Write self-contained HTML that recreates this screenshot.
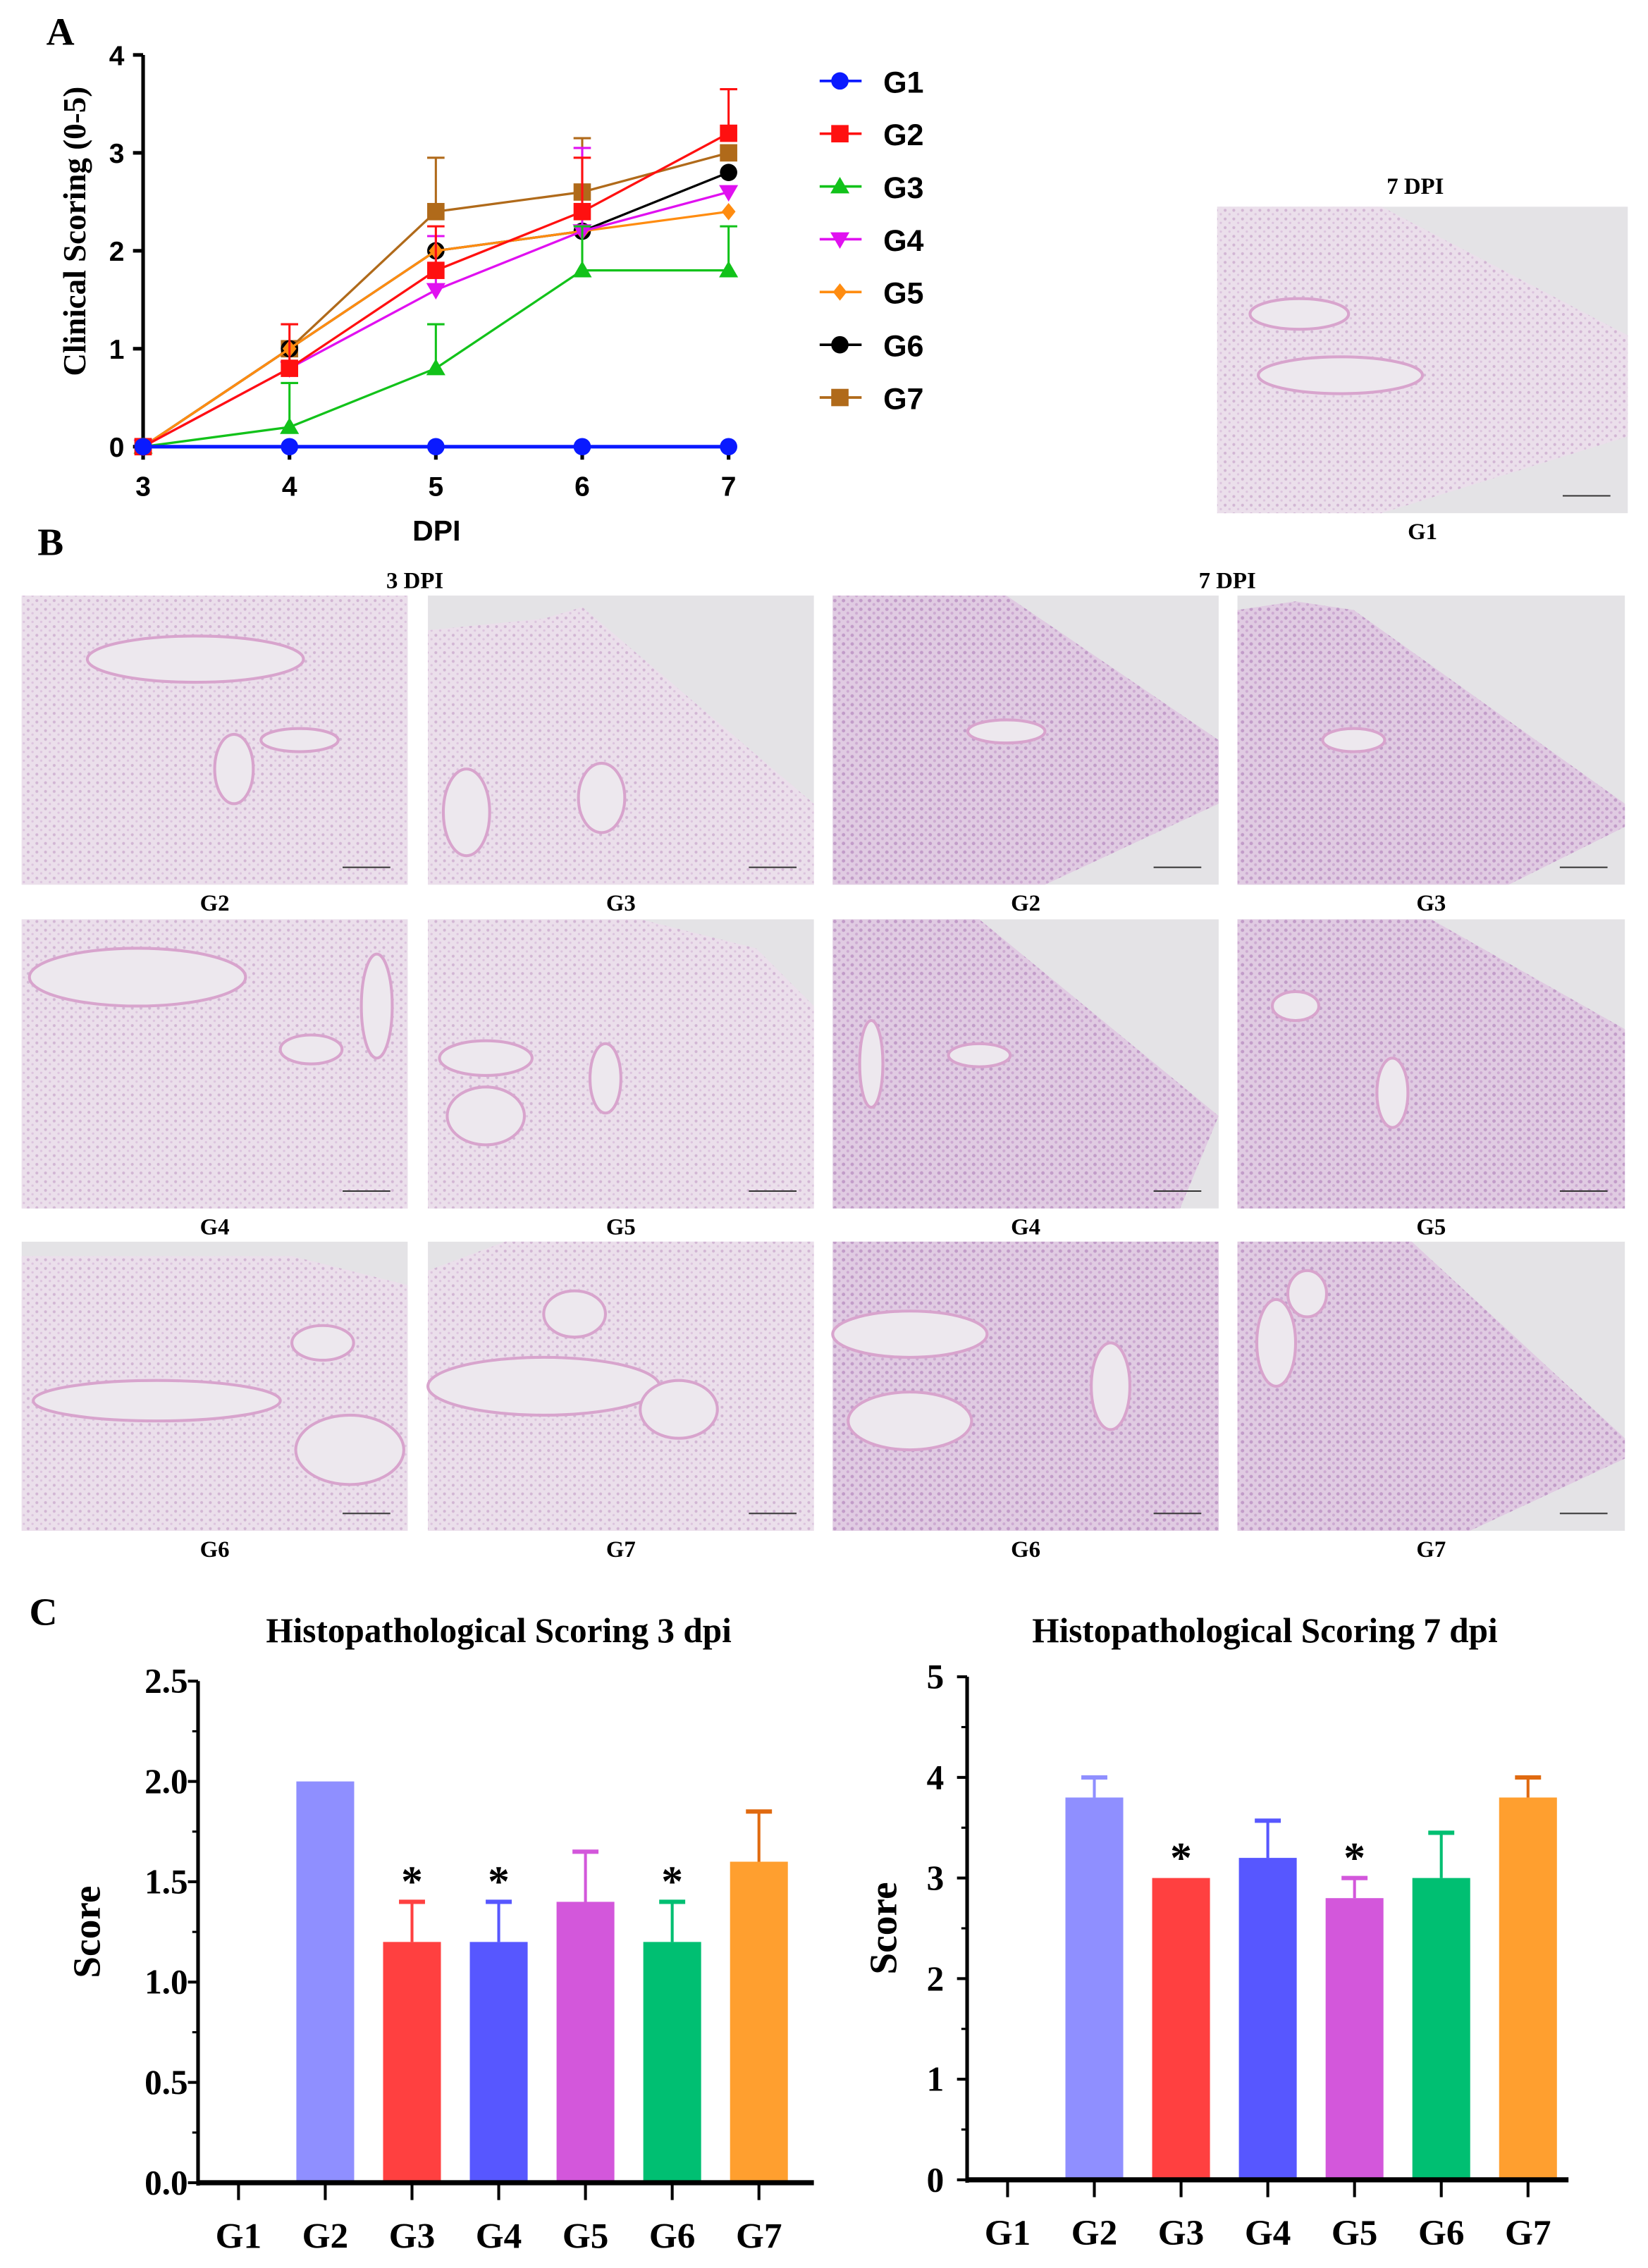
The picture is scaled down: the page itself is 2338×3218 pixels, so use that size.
<!DOCTYPE html>
<html><head><meta charset="utf-8">
<style>
html,body{margin:0;padding:0;background:#fff;}
svg{display:block;}
text{font-family:"Liberation Serif",serif;font-weight:bold;}
.sans{font-family:"Liberation Sans",sans-serif;font-weight:bold;}
</style></head>
<body>
<svg id="fig" xmlns="http://www.w3.org/2000/svg" width="2338" height="3218" viewBox="0 0 1140 1569" preserveAspectRatio="none">
<defs>
<pattern id="tex3" width="6" height="6" patternUnits="userSpaceOnUse">
<rect width="6" height="6" fill="#ebdfeb"/>
<circle cx="1.5" cy="1.5" r="1.0" fill="#d2b6d4"/>
<circle cx="4.5" cy="4.2" r="0.8" fill="#dcc4de"/>
</pattern>
<pattern id="tex7" width="6" height="6" patternUnits="userSpaceOnUse">
<rect width="6" height="6" fill="#e0cbe2"/>
<circle cx="1.5" cy="1.5" r="1.2" fill="#c29cc9"/>
<circle cx="4.5" cy="4.2" r="1.0" fill="#cdaad2"/>
</pattern>
</defs>
<g id="panelA"></g>
<g id="panelB"></g>
<g id="panelC"></g>
</svg>
<script>
const NS="http://www.w3.org/2000/svg";
function el(parent,tag,attrs,txt){const e=document.createElementNS(NS,tag);for(const k in attrs)e.setAttribute(k,attrs[k]);if(txt!==undefined)e.textContent=txt;parent.appendChild(e);return e;}

/* ===== Panel A data ===== */
const daysA=[3,4,5,6,7];
const groupsA=["G1","G2","G3","G4","G5","G6","G7"];
const colorsA=["#0a1aff","#ff1010","#12c21a","#e010f0","#ff8c10","#000000","#b06a1a"];
const markersA=["circle","square","triangle","tridown","diamond","circle","square"];
const g1Vals=[0,0,0,0,0];
const g2Vals=[0,0.8,1.8,2.4,3.2];
const g3Vals=[0,0.2,0.8,1.8,1.8];
const g4Vals=[0,0.8,1.6,2.2,2.6];
const g5Vals=[0,1.0,2.0,2.2,2.4];
const g6Vals=[0,1.0,2.0,2.2,2.8];
const g7Vals=[0,1.0,2.4,2.6,3.0];
const g1Err=[0,0,0,0,0];
const g2Err=[0,0.45,0.45,0.55,0.45];
const g3Err=[0,0.45,0.45,0.45,0.45];
const g4Err=[0,0,0.55,0.85,0];
const g5Err=[0,0,0,0,0];
const g6Err=[0,0,0,0,0];
const g7Err=[0,0,0.55,0.55,0];
const yTicksA=[0,1,2,3,4];
const seriesA=[g1Vals,g2Vals,g3Vals,g4Vals,g5Vals,g6Vals,g7Vals];
const errA=[g1Err,g2Err,g3Err,g4Err,g5Err,g6Err,g7Err];

const A=document.getElementById('panelA');
const xA=d=>99+(d-3)*101.25;
const yA=v=>309-v*67.75;
function marker(p,type,x,y,c,s){
  if(type==="circle")return el(p,'circle',{cx:x,cy:y,r:s,fill:c});
  if(type==="square")return el(p,'rect',{x:x-s,y:y-s,width:2*s,height:2*s,fill:c});
  if(type==="triangle")return el(p,'polygon',{points:`${x},${y-s*1.1} ${x-s*1.1},${y+s*0.8} ${x+s*1.1},${y+s*0.8}`,fill:c});
  if(type==="tridown")return el(p,'polygon',{points:`${x},${y+s*1.1} ${x-s*1.1},${y-s*0.8} ${x+s*1.1},${y-s*0.8}`,fill:c});
  if(type==="diamond")return el(p,'polygon',{points:`${x},${y-s} ${x+s*0.8},${y} ${x},${y+s} ${x-s*0.8},${y}`,fill:c});
}
let t=el(A,'text',{x:32,y:31,'font-size':27});t.textContent="A";

let ax=el(A,'line',{x1:99,y1:38,x2:99,y2:312,stroke:'#000','stroke-width':2.5});

yTicksA.forEach(v=>{
  el(A,'line',{x1:92,y1:yA(v),x2:99,y2:yA(v),stroke:'#000','stroke-width':2.5});
  const tt=el(A,'text',{x:86,y:yA(v)+7,'font-size':19,'text-anchor':'end',class:'sans'},String(v));
  
});
daysA.forEach(d=>{
  el(A,'line',{x1:xA(d),y1:309,x2:xA(d),y2:318,stroke:'#000','stroke-width':2.5});
  const tt=el(A,'text',{x:xA(d),y:343,'font-size':19,'text-anchor':'middle',class:'sans'},String(d));
  
});
t=el(A,'text',{x:302,y:374,'font-size':20,'text-anchor':'middle',class:'sans'},"DPI");

t=el(A,'text',{x:0,y:0,'font-size':22,'text-anchor':'middle',transform:'translate(59,160) rotate(-90)'},"Clinical Scoring (0-5)");

for(let i=seriesA.length-1;i>=0;i--){
  const g=el(A,'g',{});
  
  
  const c=colorsA[i];
  seriesA[i].forEach((v,j)=>{
    const e=errA[i][j];
    if(e>0){
      el(g,'line',{x1:xA(daysA[j]),y1:yA(v),x2:xA(daysA[j]),y2:yA(v+e),stroke:c,'stroke-width':1.5});
      el(g,'line',{x1:xA(daysA[j])-6,y1:yA(v+e),x2:xA(daysA[j])+6,y2:yA(v+e),stroke:c,'stroke-width':1.5});
    }
  });
  const pts=seriesA[i].map((v,j)=>xA(daysA[j])+','+yA(v)).join(' ');
  el(g,'polyline',{points:pts,fill:'none',stroke:c,'stroke-width':i===0?2.5:1.6});
  seriesA[i].forEach((v,j)=>{
    const m=marker(g,markersA[i],xA(daysA[j]),yA(v),c,6);
    
    
  });
}
groupsA.forEach((gname,i)=>{
  const y=56+i*36.5;
  const g=el(A,'g',{});
  
  
  el(g,'line',{x1:567,y1:y,x2:596,y2:y,stroke:colorsA[i],'stroke-width':1.8});
  marker(g,markersA[i],581,y,colorsA[i],6);
  el(g,'text',{x:611,y:y+8,'font-size':21,class:'sans'},gname);
});

/* ===== Panel B micrographs ===== */
const B=document.getElementById('panelB');
function label(p,x,y,txt,size,name){const e=el(p,'text',{x:x,y:y,'font-size':size,'text-anchor':'middle'},txt);return e;}
const panels=[
 {n:'g1-7dpi',x:842,y:143,w:284,h:212,tex:'tex3',poly:[[0,0],[0.4,0],[1,0.42],[1,0.75],[0.4,1],[0,1]],air:[[0.3,0.55,0.2,0.06],[0.2,0.35,0.12,0.05]],lab:'G1'},
 {n:'g2-3dpi',x:15,y:412,w:267,h:200,tex:'tex3',poly:[[0,0],[1,0],[1,1],[0,1]],air:[[0.45,0.22,0.28,0.08],[0.72,0.5,0.1,0.04],[0.55,0.6,0.05,0.12]],lab:'G2'},
 {n:'g3-3dpi',x:296,y:412,w:267,h:200,tex:'tex3',poly:[[0,0.12],[0.3,0.08],[0.4,0.04],[1,0.72],[1,1],[0,1]],air:[[0.45,0.7,0.06,0.12],[0.1,0.75,0.06,0.15]],lab:'G3'},
 {n:'g2-7dpi',x:576,y:412,w:267,h:200,tex:'tex7',poly:[[0,0],[0.45,0],[1,0.5],[1,0.72],[0.55,1],[0,1]],air:[[0.45,0.47,0.1,0.04]],lab:'G2'},
 {n:'g3-7dpi',x:856,y:412,w:268,h:200,tex:'tex7',poly:[[0,0.05],[0.15,0.02],[0.3,0.05],[1,0.72],[1,0.8],[0.7,1],[0,1]],air:[[0.3,0.5,0.08,0.04]],lab:'G3'},
 {n:'g4-3dpi',x:15,y:636,w:267,h:200,tex:'tex3',poly:[[0,0],[1,0],[1,1],[0,1]],air:[[0.3,0.2,0.28,0.1],[0.75,0.45,0.08,0.05],[0.92,0.3,0.04,0.18]],lab:'G4'},
 {n:'g5-3dpi',x:296,y:636,w:267,h:200,tex:'tex3',poly:[[0,0],[0.55,0],[0.85,0.1],[1,0.3],[1,1],[0,1]],air:[[0.15,0.48,0.12,0.06],[0.15,0.68,0.1,0.1],[0.46,0.55,0.04,0.12]],lab:'G5'},
 {n:'g4-7dpi',x:576,y:636,w:267,h:200,tex:'tex7',poly:[[0,0],[0.38,0],[1,0.68],[0.9,1],[0,1]],air:[[0.38,0.47,0.08,0.04],[0.1,0.5,0.03,0.15]],lab:'G4'},
 {n:'g5-7dpi',x:856,y:636,w:268,h:200,tex:'tex7',poly:[[0,0],[0.5,0],[1,0.38],[1,1],[0,1]],air:[[0.4,0.6,0.04,0.12],[0.15,0.3,0.06,0.05]],lab:'G5'},
 {n:'g6-3dpi',x:15,y:859,w:267,h:200,tex:'tex3',poly:[[0,0.05],[0.7,0.05],[1,0.15],[1,1],[0,1]],air:[[0.35,0.55,0.32,0.07],[0.85,0.72,0.14,0.12],[0.78,0.35,0.08,0.06]],lab:'G6'},
 {n:'g7-3dpi',x:296,y:859,w:267,h:200,tex:'tex3',poly:[[0,0.1],[0.2,0],[1,0],[1,1],[0,1]],air:[[0.3,0.5,0.3,0.1],[0.65,0.58,0.1,0.1],[0.38,0.25,0.08,0.08]],lab:'G7'},
 {n:'g6-7dpi',x:576,y:859,w:267,h:200,tex:'tex7',poly:[[0,0],[1,0],[1,1],[0,1]],air:[[0.2,0.32,0.2,0.08],[0.2,0.62,0.16,0.1],[0.72,0.5,0.05,0.15]],lab:'G6'},
 {n:'g7-7dpi',x:856,y:859,w:268,h:200,tex:'tex7',poly:[[0,0],[0.45,0],[1,0.68],[1,0.75],[0.6,1],[0,1]],air:[[0.1,0.35,0.05,0.15],[0.18,0.18,0.05,0.08]],lab:'G7'}
];
label(B,35,384,'B',27,'panel-b-label');
label(B,287,407,'3 DPI',16,'header-3dpi');
label(B,849,407,'7 DPI',16,'header-7dpi');
label(B,979,134,'7 DPI',16,'header-7dpi-g1');
panels.forEach(p=>{
  const g=el(B,'g',{});
  
  
  el(g,'rect',{x:p.x,y:p.y,width:p.w,height:p.h,fill:'#e4e3e6'});
  el(g,'polygon',{points:p.poly.map(q=>(p.x+q[0]*p.w)+','+(p.y+q[1]*p.h)).join(' '),fill:'url(#'+p.tex+')'});
  p.air.forEach(a=>{
    el(g,'ellipse',{cx:p.x+a[0]*p.w,cy:p.y+a[1]*p.h,rx:a[2]*p.w,ry:a[3]*p.h,fill:'#ede8ee',stroke:'#d8a4cd','stroke-width':2});
  });
  el(g,'line',{x1:p.x+p.w-45,y1:p.y+p.h-12,x2:p.x+p.w-12,y2:p.y+p.h-12,stroke:'#333','stroke-width':1});
  label(B,p.x+p.w/2,p.y+p.h+18,p.lab,16,'caption-'+p.n);
});

/* ===== Panel C bar charts ===== */
const catsC=["G1","G2","G3","G4","G5","G6","G7"];
const barColors=["#8f8fff","#8f8fff","#ff4040","#5757ff","#d357db","#00bf72","#ff9f2f"];
const errColors=["#8f8fff","#8f8fff","#ff4040","#5757ff","#d357db","#00bf72","#e06a10"];
const vals3=[0,2.0,1.2,1.2,1.4,1.2,1.6];
const err3=[0,0,0.2,0.2,0.25,0.2,0.25];
const star3=[false,false,true,true,false,true,false];
const ticks3=[0,0.5,1.0,1.5,2.0,2.5];
const tickLabels3=["0.0","0.5","1.0","1.5","2.0","2.5"];
const vals7=[0,3.8,3.0,3.2,2.8,3.0,3.8];
const err7=[0,0.2,0,0.37,0.2,0.45,0.2];
const star7=[false,false,true,false,true,false,false];
const ticks7=[0,1,2,3,4,5];
const tickLabels7=["0","1","2","3","4","5"];

const C=document.getElementById('panelC');
label(C,30,1124,'C',27,'panel-c-label');
function barChart(cfg){
  const g=el(C,'g',{});
  
  
  const y=v=>cfg.y0-(v/cfg.max)*(cfg.y0-cfg.yTop);
  const xc=i=>cfg.x0+28+i*cfg.step;
  label(g,cfg.titleX,1136,cfg.title,24,cfg.name+'-title');
  const yt=el(g,'text',{x:0,y:0,'font-size':27,'text-anchor':'middle',transform:`translate(${cfg.yTitleX},${(cfg.y0+cfg.yTop)/2}) rotate(-90)`},'Score');
  
  el(g,'line',{x1:cfg.x0,y1:cfg.yTop,x2:cfg.x0,y2:cfg.y0+2,stroke:'#000','stroke-width':2.5});
  cfg.ticks.forEach((v,i)=>{
    el(g,'line',{x1:cfg.x0-7,y1:y(v),x2:cfg.x0,y2:y(v),stroke:'#000','stroke-width':2});
    if(i<cfg.ticks.length-1){const m=(v+cfg.ticks[i+1])/2;el(g,'line',{x1:cfg.x0-4,y1:y(m),x2:cfg.x0,y2:y(m),stroke:'#000','stroke-width':1.5});}
    label(g,cfg.x0-22,y(v)+8,cfg.tickLabels[i],24,cfg.name+'-y-tick').setAttribute('text-anchor','middle');
  });
  cfg.vals.forEach((v,i)=>{
    if(v>0){
      const b=el(g,'rect',{x:xc(i)-20,y:y(v),width:40,height:cfg.y0-y(v),fill:barColors[i]});
      
      
    }
    const e=cfg.err[i];
    if(e>0){
      el(g,'line',{x1:xc(i),y1:y(v),x2:xc(i),y2:y(v+e),stroke:errColors[i],'stroke-width':2});
      el(g,'line',{x1:xc(i)-9,y1:y(v+e),x2:xc(i)+9,y2:y(v+e),stroke:errColors[i],'stroke-width':3});
    }
    if(cfg.stars[i]){label(g,xc(i),y(v+e)-4,'*',30,cfg.name+'-sig-'+catsC[i].toLowerCase());}
    el(g,'line',{x1:xc(i),y1:cfg.y0,x2:xc(i),y2:cfg.y0+12,stroke:'#000','stroke-width':2});
    label(g,xc(i),cfg.y0+45,catsC[i],25,cfg.name+'-x-label-'+catsC[i].toLowerCase());
  });
  el(g,'line',{x1:cfg.x0,y1:cfg.y0,x2:cfg.xEnd,y2:cfg.y0,stroke:'#000','stroke-width':3.5});
}
barChart({name:'chart-3dpi',title:'Histopathological Scoring 3 dpi',titleX:345,x0:137,xEnd:563,y0:1510,yTop:1163,max:2.5,step:60,yTitleX:69,vals:vals3,err:err3,stars:star3,ticks:ticks3,tickLabels:tickLabels3});
barChart({name:'chart-7dpi',title:'Histopathological Scoring 7 dpi',titleX:875,x0:669,xEnd:1085,y0:1508,yTop:1160,max:5,step:60,yTitleX:620,vals:vals7,err:err7,stars:star7,ticks:ticks7,tickLabels:tickLabels7});
</script>
</body></html>
